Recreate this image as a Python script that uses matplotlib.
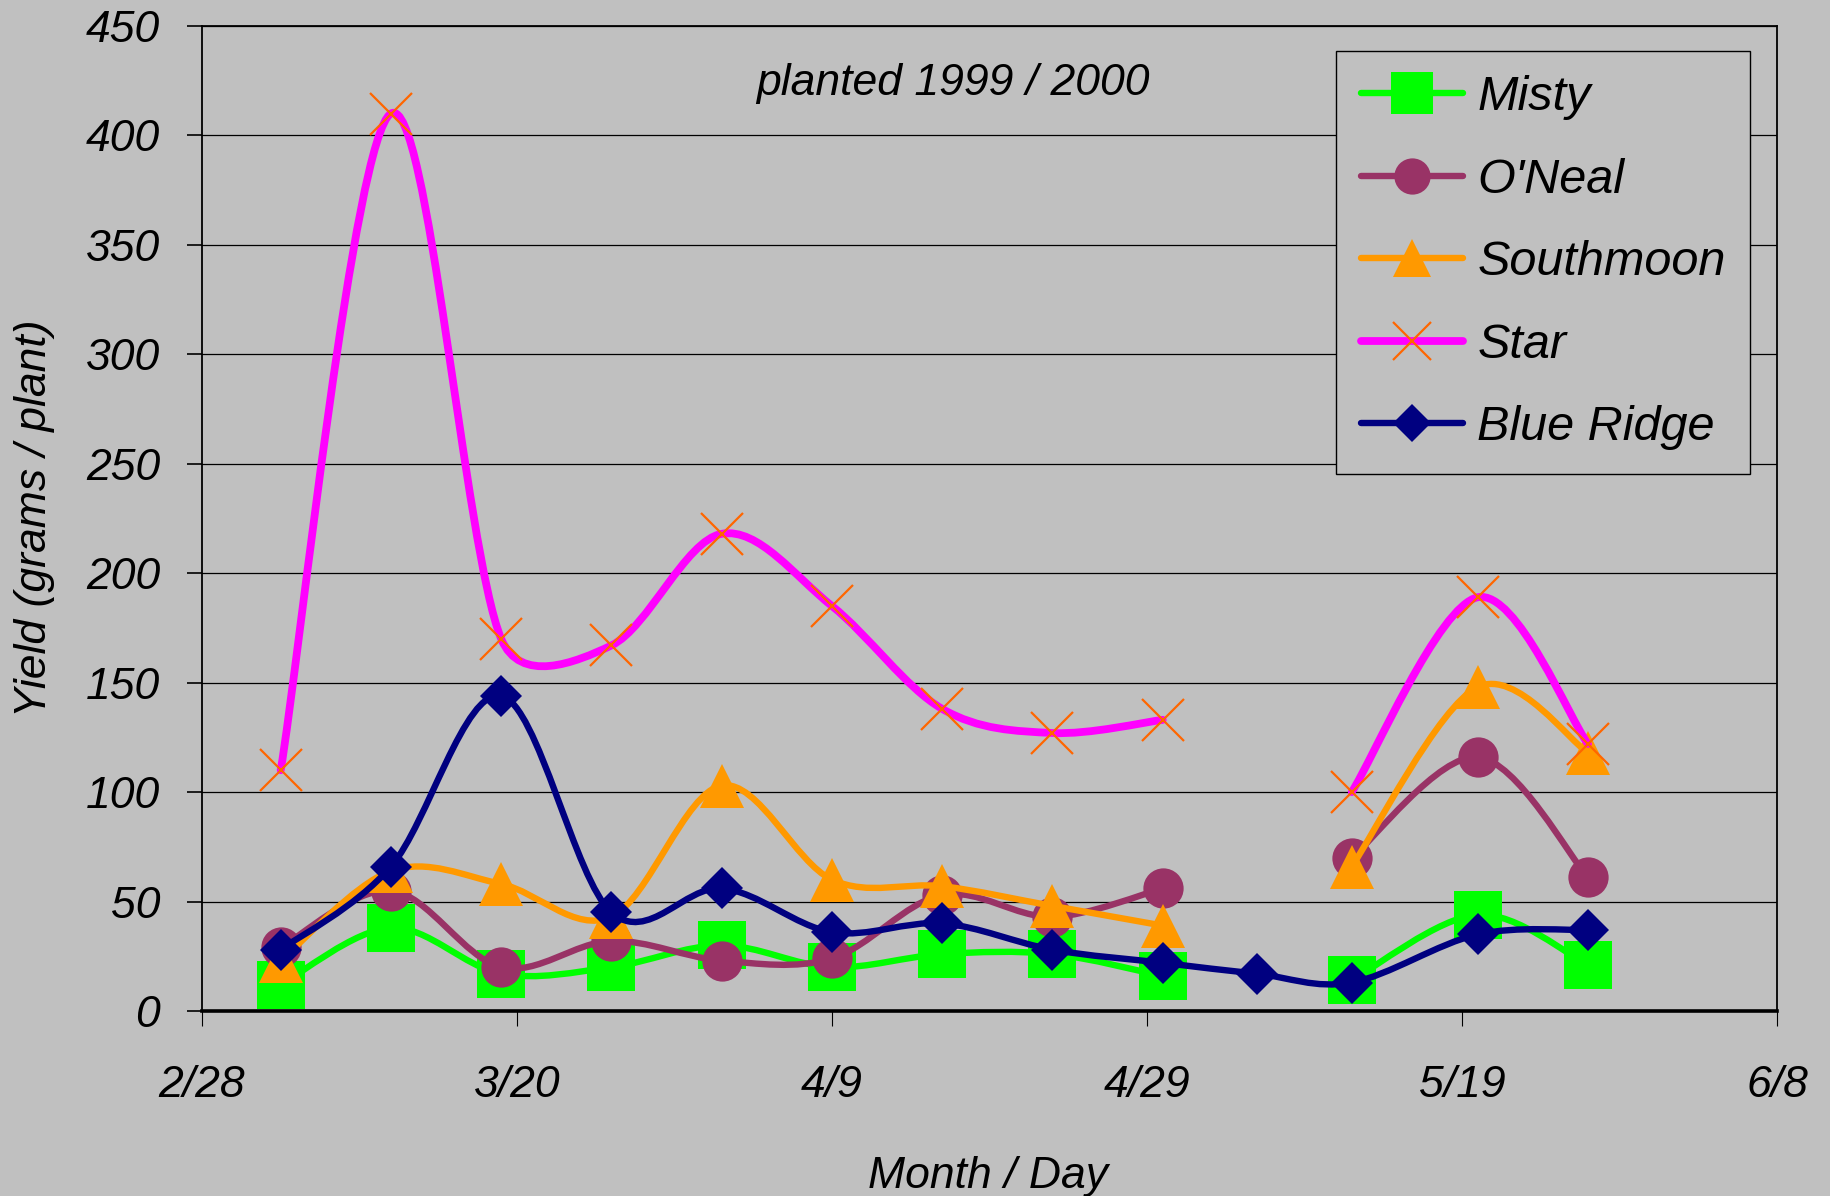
import numpy as np
import pandas as pd
import matplotlib
matplotlib.use('Agg')
import matplotlib.pyplot as plt
import matplotlib.dates as mdates
from matplotlib.path import Path
from matplotlib.patches import PathPatch
from matplotlib.lines import Line2D

# harvest dates (month/day), season planted 1999 / 2000
harvest_dates = ['3/5', '3/12', '3/19', '3/26', '4/2', '4/9', '4/16',
                 '4/23', '4/30', '5/6', '5/12', '5/20', '5/27']
season_year = 2001

# yield, grams / plant (nan = not picked that day)
misty = [12, 38, 17, 20, 30, 20, 26, 26, 16, np.nan, 14, 44, 21]
oneal = [29, 55, 20, 32, 23, 24, 53, 43, 56, np.nan, 70, 116, 61]
southmoon = [23, 64, 58, 43, 103, 60, 57, 48, 39, np.nan, 66, 148, 118]
star = [110, 410, 170, 167, 218, 185, 138, 127, 133, np.nan, 100, 189, 122]
blue_ridge = [28, 66, 144, 45, 56, 36, 40, 28, 22, 17, 13, 35, 37]

tick_dates = ['2/28', '3/20', '4/9', '4/29', '5/19', '6/8']
y_ticks = [0, 50, 100, 150, 200, 250, 300, 350, 400, 450]

BG = '#C0C0C0'
plt.rcParams['font.family'] = ['Liberation Sans', 'DejaVu Sans']
plt.rcParams['font.style'] = 'italic'


def to_num(labels):
    d = pd.to_datetime([f"{season_year}/{s}" for s in labels], format='%Y/%m/%d')
    return mdates.date2num(d)


def smooth_path(ax, x, y, limit=0.45):
    """Excel-like smoothed line (bezier, 1/6 tangents, arms kept short
    next to short segments), broken where a value is missing.
    Worked out in pixels, handed back in data coordinates."""
    to_px = ax.transData
    to_data = ax.transData.inverted()
    verts, codes = [], []
    ok = ~np.isnan(y)
    runs, cur = [], []
    for i in range(len(x)):
        if ok[i]:
            cur.append((x[i], y[i]))
        elif cur:
            runs.append(cur)
            cur = []
    if cur:
        runs.append(cur)
    for run in runs:
        P = to_px.transform(np.array(run))
        n = len(P)
        if n < 2:
            continue
        verts.append(P[0])
        codes.append(Path.MOVETO)
        for i in range(n - 1):
            p0 = P[i - 1] if i > 0 else P[i]
            p1, p2 = P[i], P[i + 1]
            p3 = P[i + 2] if i + 2 < n else P[i + 1]
            seg = np.hypot(*(p2 - p1))
            a1 = (p2 - p0) / 6
            a2 = (p3 - p1) / 6
            for a in (a1, a2):
                L = np.hypot(*a)
                if L > limit * seg:
                    a *= limit * seg / L
            verts += [p1 + a1, p2 - a2, p2]
            codes += [Path.CURVE4] * 3
    return Path(to_data.transform(np.array(verts)), codes)


x = to_num(harvest_dates)

series = [
    # name, values, line colour, line width, marker, size, face, edge, mew
    ("Misty", misty, '#00FF00', 4.6, 's', 34, '#00FF00', '#00FF00', 0),
    ("O'Neal", oneal, '#993366', 4.6, 'o', 29, '#993366', '#993366', 0),
    ("Southmoon", southmoon, '#FF9900', 4.6, '^', 31, '#FF9900', '#FF9900', 0),
    ("Star", star, '#FF00FF', 5.6, 'x', 30, '#FF6600', '#FF6600', 1.6),
    ("Blue Ridge", blue_ridge, '#000080', 4.6, 'D', 21.5, '#000080', '#000080', 0),
]

fig = plt.figure(figsize=(18.31, 11.96), dpi=100, facecolor=BG)
ax = fig.add_axes([0.1103, 0.1547, 0.8602, 0.8236])
ax.set_facecolor(BG)

xt = to_num(tick_dates)
ax.set_xlim(xt[0], xt[-1])
ax.set_ylim(0, 450)
ax.set_xticks(xt)
ax.set_xticklabels(tick_dates)
ax.set_yticks(y_ticks)

handles = []
for k, (name, vals, lc, lw, mk, ms, mfc, mec, mew) in enumerate(series):
    y = np.array(vals, dtype=float)
    patch = PathPatch(smooth_path(ax, x, y), facecolor='none', edgecolor=lc,
                      lw=lw, capstyle='round', joinstyle='round', zorder=3 + 2 * k)
    ax.add_patch(patch)
    ax.plot(x, y, linestyle='none', marker=mk, ms=ms, mfc=mfc, mec=mec,
            mew=mew, zorder=4 + 2 * k)
    handles.append(Line2D([], [], color=lc, lw=lw, marker=mk, ms=ms * 0.9,
                          mfc=mfc, mec=mec, mew=mew, solid_capstyle='round'))

ax.yaxis.grid(True, color='black', lw=0.9)
ax.set_axisbelow(True)
for s in ['top', 'right', 'left']:
    ax.spines[s].set_linewidth(1.3)
    ax.spines[s].set_color('black')
ax.spines['bottom'].set_linewidth(2.6)
ax.spines['bottom'].set_color('black')

ax.tick_params(axis='x', direction='out', length=11, width=0.8, pad=28,
               labelsize=32, colors='black')
ax.tick_params(axis='y', direction='out', length=11, width=1.2, pad=19,
               labelsize=32, colors='black')

ax.text(0.4768, 0.930, 'planted 1999 / 2000', transform=ax.transAxes,
        ha='center', va='baseline', fontsize=32)

fig.text(35 / 1831, 1 - 518 / 1196, 'Yield (grams / plant)', rotation=90,
         ha='center', va='center', fontsize=32)
fig.text(988 / 1831, 0.0071, 'Month / Day', ha='center', va='baseline',
         fontsize=32)

leg = ax.legend(handles, [s[0] for s in series], loc='upper right',
                bbox_to_anchor=(1750 / 1831, 1 - 51 / 1196),
                bbox_transform=fig.transFigure, borderaxespad=0,
                fontsize=35, handlelength=2.1, handletextpad=0.3,
                labelspacing=0.77, borderpad=0.5, fancybox=False,
                framealpha=1, facecolor=BG, edgecolor='black')
leg.get_frame().set_linewidth(1.0)
leg.set_zorder(20)

fig.savefig('out.png', dpi=100, facecolor=BG)
